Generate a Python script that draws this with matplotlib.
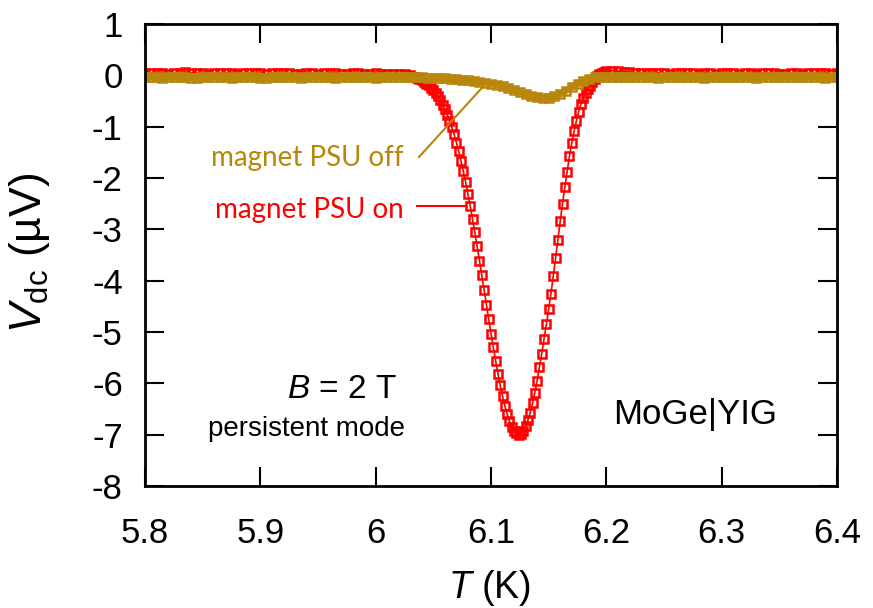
import numpy as np
import matplotlib
matplotlib.use("Agg")
import matplotlib.pyplot as plt

plt.rcParams["font.family"] = ["Liberation Sans", "DejaVu Sans"]
plt.rcParams["mathtext.fontset"] = "custom"
plt.rcParams["mathtext.rm"] = "Liberation Sans"
plt.rcParams["mathtext.it"] = "Liberation Sans:italic"
plt.rcParams["axes.unicode_minus"] = False

# ---- measured thermovoltage, MoGe|YIG, B = 2 T ----
# magnet power supply on: three sweep segments (coarse / fine / coarse)
V_on_left = [0.04, 0.05, 0.05, 0.04, 0.03, 0.04, 0.05, 0.06, 0.05, 0.04,
             0.04, 0.03, 0.04, 0.05, 0.05, 0.04, 0.03, 0.04, 0.04, 0.05,
             0.04, 0.03, 0.04, 0.04, 0.05, 0.04, 0.03, 0.03, 0.04, 0.04,
             0.03, 0.04, 0.05, 0.04, 0.03, 0.03, 0.04, 0.04, 0.03, 0.03,
             0.04, 0.03, 0.03, 0.03, 0.02, 0.02]
V_on_dip = [0.00, -0.03, -0.04, -0.06, -0.08, -0.10, -0.13, -0.16, -0.19, -0.24,
            -0.29, -0.34, -0.41, -0.48, -0.57, -0.66, -0.77, -0.88, -1.01, -1.15,
            -1.31, -1.48, -1.67, -1.87, -2.08, -2.31, -2.55, -2.80, -3.06, -3.33,
            -3.61, -3.89, -4.18, -4.47, -4.75, -5.03, -5.30, -5.56, -5.81, -6.04,
            -6.25, -6.44, -6.60, -6.74, -6.85, -6.93, -6.97, -7.00, -6.98, -6.93,
            -6.84, -6.72, -6.57, -6.39, -6.18, -5.95, -5.69, -5.42, -5.14, -4.85,
            -4.55, -4.25, -3.91, -3.56, -3.21, -2.84, -2.50, -2.18, -1.88, -1.58,
            -1.32, -1.09, -0.89, -0.71, -0.56, -0.44, -0.34, -0.26, -0.20, -0.13,
            -0.07, -0.02, 0.02, 0.05, 0.07]
V_on_right = [0.08, 0.09, 0.08, 0.07, 0.06, 0.05, 0.05, 0.04, 0.04, 0.05,
              0.04, 0.03, 0.04, 0.04, 0.05, 0.04, 0.03, 0.04, 0.04, 0.03,
              0.04, 0.05, 0.04, 0.03, 0.04, 0.04, 0.03, 0.04, 0.05, 0.04,
              0.03, 0.03, 0.04, 0.04, 0.03, 0.04, 0.04, 0.05, 0.04, 0.03,
              0.04]
T_on_left = np.linspace(5.800, 6.025, len(V_on_left))
T_on_dip = np.linspace(6.030, 6.198, len(V_on_dip))
T_on_right = np.linspace(6.200, 6.400, len(V_on_right))

# magnet power supply off: uniform 5 mK sweep
V_off = [-0.04, -0.03, -0.04, -0.05, -0.04, -0.04, -0.03, -0.04, -0.05, -0.05,
         -0.04, -0.04, -0.03, -0.04, -0.04, -0.05, -0.04, -0.03, -0.04, -0.04,
         -0.05, -0.05, -0.04, -0.04, -0.03, -0.04, -0.04, -0.05, -0.04, -0.04,
         -0.03, -0.04, -0.04, -0.05, -0.04, -0.04, -0.03, -0.04, -0.04, -0.04,
         -0.05, -0.04, -0.04, -0.03, -0.04, -0.04,
         -0.04, -0.04, -0.04, -0.05, -0.05, -0.06, -0.06, -0.07, -0.08, -0.09,
         -0.10, -0.11, -0.13, -0.14, -0.16, -0.18, -0.21, -0.24, -0.28, -0.32,
         -0.36, -0.40, -0.43, -0.45, -0.44, -0.41, -0.36, -0.30, -0.23, -0.17,
         -0.11, -0.07, -0.04, -0.03,
         -0.03, -0.03, -0.04, -0.03, -0.04, -0.04, -0.03, -0.03, -0.04, -0.05,
         -0.04, -0.03, -0.03, -0.04, -0.04, -0.03, -0.04, -0.05, -0.04, -0.03,
         -0.03, -0.04, -0.04, -0.03, -0.04, -0.04, -0.05, -0.04, -0.03, -0.03,
         -0.04, -0.04, -0.03, -0.04, -0.04, -0.03, -0.03, -0.04, -0.05, -0.04,
         -0.04]
T_off = np.linspace(5.800, 6.400, len(V_off))

T_on = np.concatenate([T_on_left, T_on_dip, T_on_right])
V_on = np.array(V_on_left + V_on_dip + V_on_right)

x_ticks = [5.8, 5.9, 6.0, 6.1, 6.2, 6.3, 6.4]
x_tick_labels = ["5.8", "5.9", "6", "6.1", "6.2", "6.3", "6.4"]
y_ticks = [1, 0, -1, -2, -3, -4, -5, -6, -7, -8]
y_tick_labels = ["1", "0", "-1", "-2", "-3", "-4", "-5", "-6", "-7", "-8"]

RED = "#ff0000"
GOLD = "#b8860b"

W, H = 873, 608
fig = plt.figure(figsize=(W / 100, H / 100), dpi=100)
ax = fig.add_axes([145 / W, 1 - 486 / H, (837 - 145) / W, (486 - 24) / H])

ax.plot(T_on, V_on, color=RED, marker="s", ms=6.0, mfc="none", mew=1.8, lw=1.2)
# the "off" trace is dense enough to merge into a solid band
ax.plot(T_off, V_off, color=GOLD, lw=4.5, solid_capstyle="butt")
ax.plot(T_off, V_off, color=GOLD, marker="s", ms=6.0, mfc="none", mew=1.8, lw=0)

ax.set_xlim(5.8, 6.4)
ax.set_ylim(-8, 1)
ax.set_xticks(x_ticks)
ax.set_xticklabels(x_tick_labels)
ax.set_yticks(y_ticks)
ax.set_yticklabels(y_tick_labels)
ax.tick_params(direction="in", length=14, width=1.5, top=True, right=True,
               labelsize=25, colors="black")
ax.tick_params(axis="x", pad=22)
ax.tick_params(axis="y", pad=16)
for s in ax.spines.values():
    s.set_linewidth(2.0)

# series labels with leader lines
ax.text(6.024, -1.76, "magnet PSU off", color=GOLD, fontsize=20,
        family=["Lato", "DejaVu Sans"], ha="right", va="baseline")
ax.plot([6.0376, 6.0923], [-1.59, -0.24], color=GOLD, lw=1.5)
ax.text(6.024, -2.77, "magnet PSU on", color=RED, fontsize=20,
        family=["Lato", "DejaVu Sans"], ha="right", va="baseline")
ax.plot([6.0359, 6.0785], [-2.54, -2.54], color=RED, lw=1.5)

ax.text(397 / W, 1 - 398 / H, r"$B$ = 2 T", transform=fig.transFigure,
        fontsize=24, ha="right", va="baseline")
ax.text(405 / W, 1 - 436 / H, "persistent mode", transform=fig.transFigure,
        fontsize=20, ha="right", va="baseline")
ax.text(777 / W, 1 - 424 / H, "MoGe|YIG", transform=fig.transFigure,
        fontsize=25, ha="right", va="baseline")

fig.text(30 / W, 1 - 253 / H, r"$V_{\rm dc}$ (µV)", rotation=90,
         fontsize=32, ha="center", va="center")
fig.text(490 / W, 1 - 588 / H, r"$T$ (K)", fontsize=27, ha="center", va="center")

fig.savefig("out.png", dpi=100)
